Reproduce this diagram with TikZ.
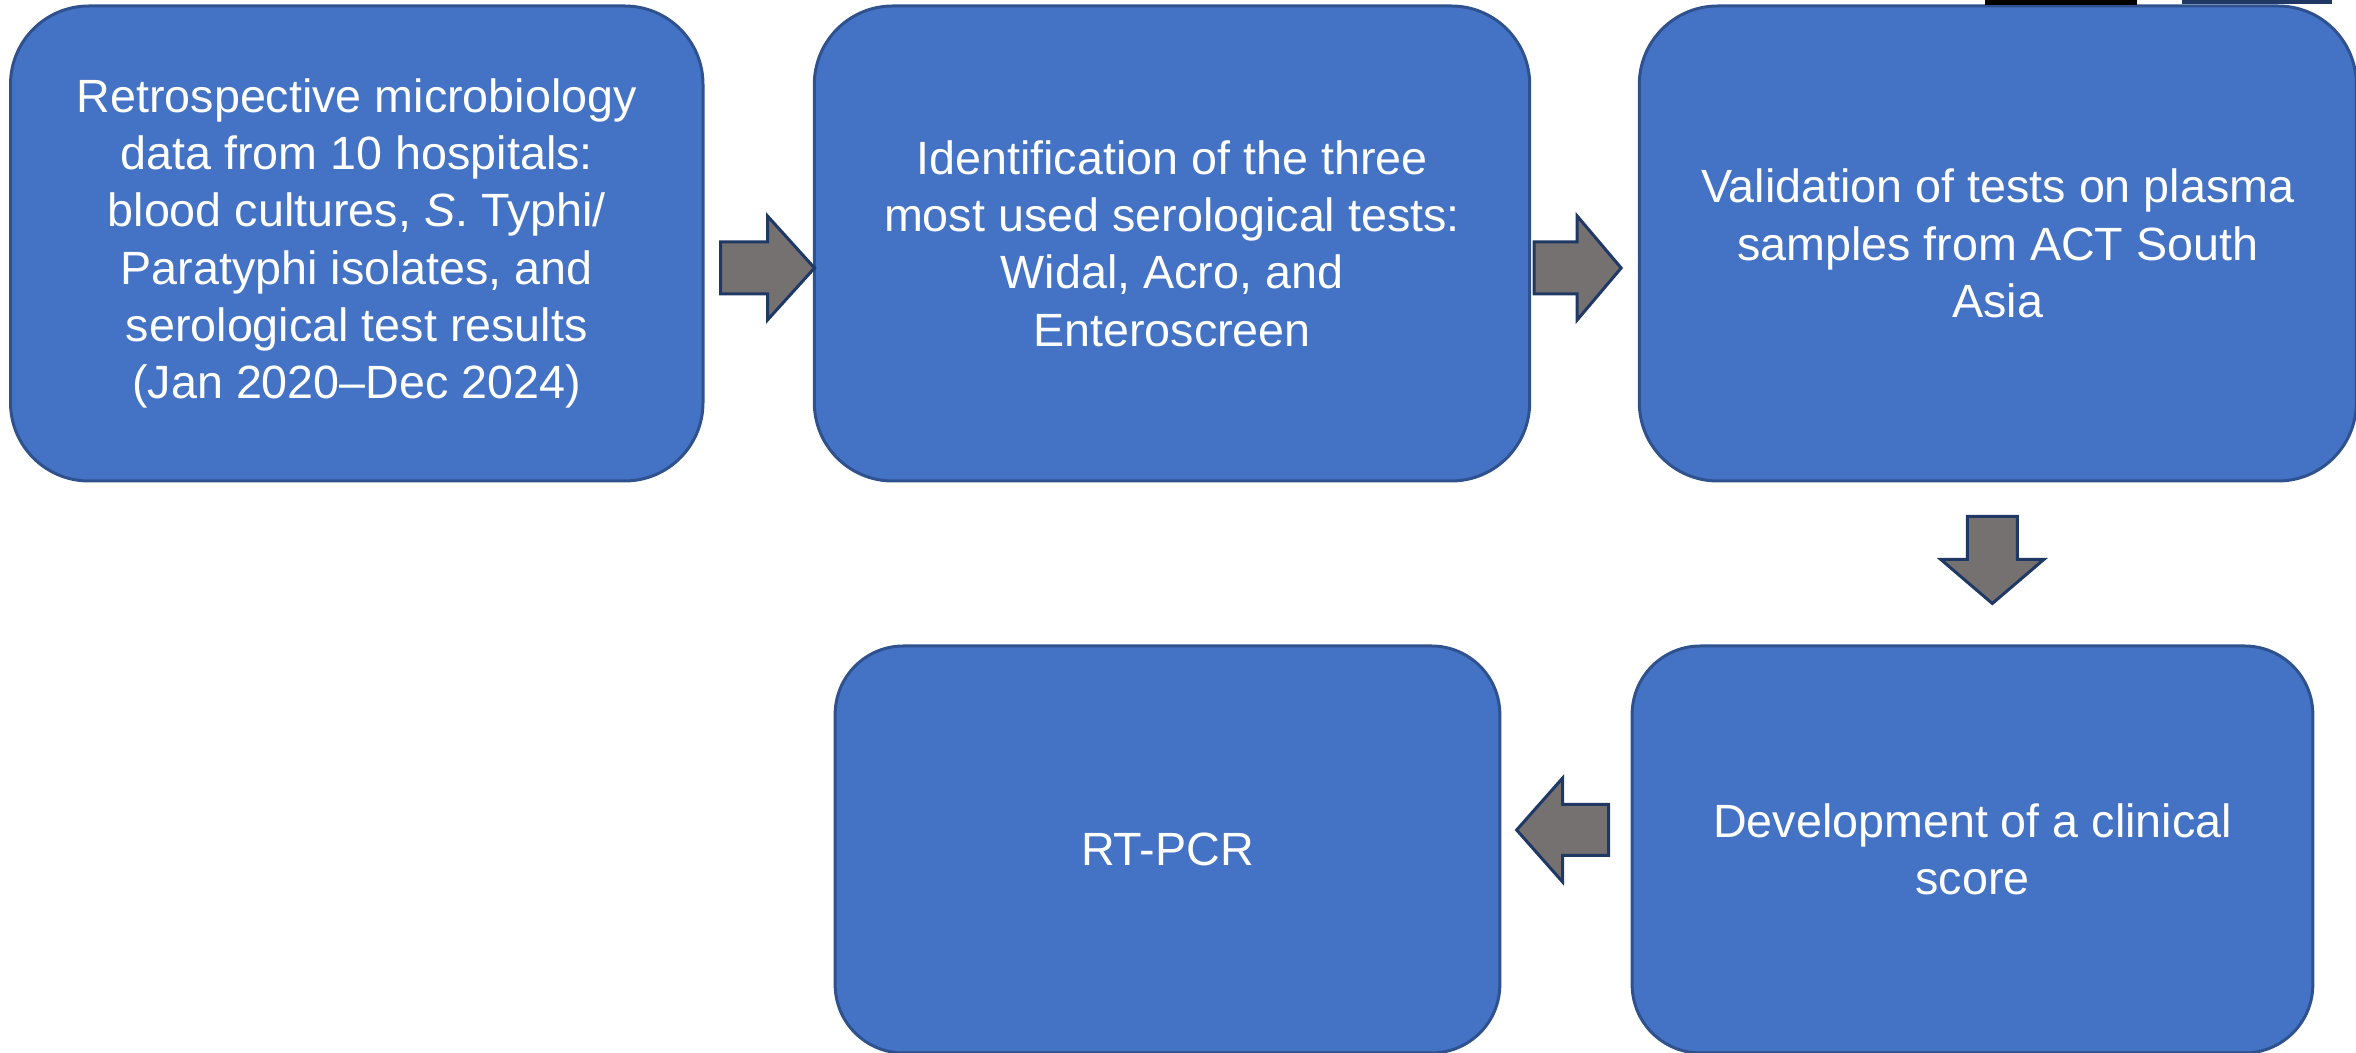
\documentclass[tikz,border=0pt]{standalone}
\usepackage{fontspec}
\setmainfont{Liberation Sans}
\usepackage{tikz}
\usetikzlibrary{positioning}
\usetikzlibrary{calc}
\definecolor{boxblue}{HTML}{4472C4}
\definecolor{boxline}{HTML}{2F528F}
\definecolor{arrgray}{HTML}{767171}
\definecolor{arrline}{HTML}{203864}

\begin{document}
\begin{tikzpicture}[
            x = 0.3pt, y = 0.3pt, % one unit = one pixel of the sketch
            line width = 0.9pt, % outline width
            font = \fontsize{14}{17.2}\selectfont
        ]

        \tikzstyle{stepbox}=[
            draw = boxline,
            fill = boxblue,
            text = white,
            align = center,
            inner sep = 0pt,
            rounded corners = 23.5pt,
            minimum height = 142.5pt
        ]
        \tikzstyle{lowbox}=[
            stepbox,
            rounded corners = 20.5pt,
            minimum height = 122.1pt
        ]
        \tikzstyle{blockarrow}=[
            draw = arrline,
            fill = arrgray,
            line join = miter
        ]

        \useasboundingbox (0,0) rectangle (2356,-1053);

        % top row
        \node[stepbox, minimum width = 207.75pt] (ret) at (356.75,-243.5)
            {Retrospective microbiology\\ data from 10 hospitals:\\ blood cultures, \textit{S}. Typhi/\\ Paratyphi isolates, and\\ serological test results\\ (Jan 2020--Dec 2024)};
        \node[stepbox, minimum width = 214.6pt] (ident) [right = 32.5pt of ret]
            {Identification of the three\\ most used serological tests:\\ Widal, Acro, and\\ Enteroscreen};
        \node[stepbox, minimum width = 215.1pt] (valid) [right = 32pt of ident]
            {Validation of tests on plasma\\ samples from ACT South\\ Asia};

        % bottom row
        \node[lowbox, minimum width = 204.2pt] (score) [below = 48.6pt of valid, xshift = -7.6pt]
            {Development of a clinical\\ score};
        \node[lowbox, minimum width = 199.4pt] (pcr) [left = 38.8pt of score]
            {RT-PCR};

        % block arrows
        \coordinate (a1) at ($(ret.east)+(16,-24.5)$);
        \coordinate (a2) at ($(ident.east)+(3,-24.5)$);
        \coordinate (a3) at ($(valid.south)+(-5.5,-34)$);
        \coordinate (a4) at ($(score.west)+(-22,19.5)$);

        \draw[blockarrow, shift = {(a1)}] (0,-26) -- (47,-26) -- (47,-52) -- (94,0) -- (47,52) -- (47,26) -- (0,26) -- cycle;
        \draw[blockarrow, shift = {(a2)}] (0,-26) -- (43,-26) -- (43,-52) -- (87,0) -- (43,52) -- (43,26) -- (0,26) -- cycle;
        \draw[blockarrow, shift = {(a3)}, rotate = -90] (0,-25) -- (43,-25) -- (43,-51.5) -- (87,0) -- (43,51.5) -- (43,25) -- (0,25) -- cycle;
        \draw[blockarrow, shift = {(a4)}, rotate = 180] (0,-25.5) -- (46,-25.5) -- (46,-52) -- (92,0) -- (46,52) -- (46,25.5) -- (0,25.5) -- cycle;

        % cut-off marks at the top edge
        \fill[black] (1985,0) rectangle (2137,-5);
        \fill[arrline] (2182,0) rectangle (2332,-4);

\end{tikzpicture}
\end{document}
